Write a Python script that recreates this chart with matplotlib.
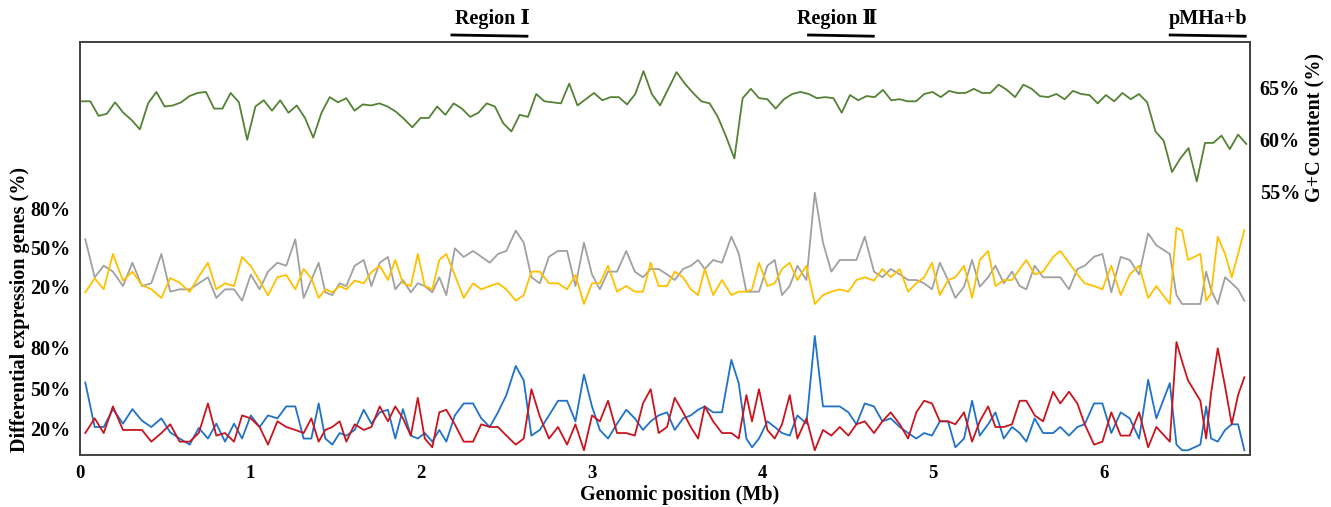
import matplotlib
matplotlib.use("Agg")
import matplotlib.pyplot as plt
import matplotlib.transforms as mtransforms
import numpy as np

plt.rcParams['font.family'] = ['Liberation Serif', 'DejaVu Serif']
plt.rcParams['font.weight'] = 'bold'

# G+C content (%) in regular windows along the genome
gc_start = 0.012   # Mb, first window
gc_step = 0.0484   # Mb, window step
gc_content = [
    63.7, 63.7, 62.3, 62.5, 63.6, 62.6, 61.9, 61.0, 63.5, 64.6, 63.2, 63.3, 63.6, 64.2, 64.5, 64.6,
    63.0, 63.0, 64.5, 63.6, 60.0, 63.2, 63.8, 62.8, 63.8, 62.6, 63.3, 62.1, 60.2, 62.6, 64.1, 63.6,
    64.0, 62.8, 63.4, 63.3, 63.5, 63.2, 62.7, 62.0, 61.2, 62.1, 62.1, 63.2, 62.4, 63.5, 63.0, 62.2,
    62.6, 63.5, 63.2, 61.6, 60.8, 62.4, 62.2, 64.4, 63.7, 63.6, 63.5, 65.4, 63.3, 63.9, 64.5, 63.8,
    64.1, 64.1, 63.4, 64.4, 66.6, 64.4, 63.3, 64.9, 66.5, 65.4, 64.5, 63.7, 63.5, 62.2, 60.3, 58.2,
    64.0, 64.9, 64.0, 63.9, 63.0, 63.9, 64.4, 64.6, 64.4, 64.0, 64.1, 64.0, 62.6, 64.3, 63.8, 64.2,
    64.1, 64.8, 63.8, 63.9, 63.7, 63.7, 64.4, 64.6, 64.1, 64.7, 64.5, 64.5, 64.9, 64.5, 64.5, 65.3,
    64.8, 64.1, 65.3, 64.9, 64.2, 64.1, 64.4, 63.9, 64.7, 64.4, 64.3, 63.5, 64.3, 63.7, 64.5, 63.9,
    64.4, 63.6, 60.8, 59.9, 56.9, 58.2, 59.2, 56.0, 59.7, 59.7, 60.4, 59.1, 60.5, 59.6,
]

# positions (Mb) of the differential expression windows
deg_pos = [
    0.031, 0.086, 0.139, 0.193, 0.252, 0.307, 0.363, 0.418, 0.477, 0.529, 0.584, 0.643, 0.696,
    0.750, 0.799, 0.850, 0.903, 0.950, 1.001, 1.053, 1.102, 1.157, 1.209, 1.262, 1.311, 1.356,
    1.399, 1.438, 1.479, 1.522, 1.561, 1.610, 1.663, 1.708, 1.757, 1.805, 1.848, 1.893, 1.939,
    1.980, 2.021, 2.065, 2.106, 2.147, 2.197, 2.249, 2.304,
    2.352, 2.402, 2.450, 2.499, 2.554, 2.601, 2.646, 2.695, 2.749, 2.802, 2.855, 2.904, 2.954,
    3.001, 3.047, 3.095, 3.148, 3.202, 3.252, 3.300, 3.345, 3.392, 3.441, 3.486, 3.535, 3.580,
    3.623, 3.662, 3.711, 3.763, 3.818, 3.861, 3.906, 3.939, 3.980, 4.029, 4.072, 4.115, 4.160,
    4.205, 4.258, 4.307, 4.355, 4.404, 4.453, 4.504, 4.551, 4.600,
    4.654, 4.703, 4.752, 4.805, 4.854, 4.902, 4.948, 4.994, 5.040, 5.088, 5.131, 5.182, 5.229,
    5.274, 5.323, 5.366, 5.415, 5.463, 5.508, 5.547, 5.596, 5.645, 5.704, 5.746, 5.797, 5.846,
    5.889, 5.944, 5.993, 6.045, 6.100, 6.153, 6.208, 6.261, 6.309, 6.388, 6.427, 6.460, 6.495,
    6.567, 6.601, 6.630, 6.669, 6.712, 6.751, 6.788, 6.825,
]

# middle band
deg_yellow = [
    15.7, 26.4, 18.0, 45.0, 24.6, 31.5, 21.3, 18.0, 11.4, 26.6, 23.1, 16.0, 27.7, 38.3, 18.0, 22.6,
    20.5, 42.7, 35.7, 24.6, 13.4, 27.2, 28.9, 18.0, 33.5, 26.4, 11.4, 18.0, 15.7, 20.5, 18.0, 24.6,
    22.6, 31.0, 36.0, 25.1, 40.4, 22.6, 20.5, 45.0, 20.5, 18.0, 40.4, 45.0, 28.9, 11.4, 22.6,
    18.0, 20.5, 22.6, 18.0, 9.3, 13.6, 31.5, 31.5, 22.6, 22.6, 18.0, 28.9, 6.8, 22.6, 22.6, 36.0,
    16.2, 20.5, 16.2, 16.2, 38.3, 20.5, 20.5, 31.5, 27.2, 18.0, 13.6, 33.5, 13.6, 25.1, 13.6, 16.2,
    16.2, 18.0, 38.3, 20.5, 22.6, 33.5, 38.3, 25.1, 36.0, 6.8, 13.6, 16.2, 18.0, 16.2, 25.1, 27.2,
    24.6, 33.5, 27.2, 33.5, 16.2, 22.6, 27.2, 38.3, 13.6, 25.1, 27.2, 36.0, 11.4, 40.4, 47.3, 20.5,
    25.1, 25.1, 33.5, 40.4, 29.4, 31.5, 42.7, 47.3, 38.3, 29.4, 22.6, 20.5, 18.0, 36.0, 13.6, 29.4,
    36.0, 11.4, 20.5, 6.8, 65.0, 62.8, 40.4, 45.0, 9.3, 14.9, 58.2, 45.0, 27.2, 44.9, 63.3,
]
deg_gray = [
    56.2, 27.2, 36.0, 31.5, 20.5, 38.3, 20.5, 22.6, 45.0, 16.2, 18.0, 18.0, 22.6, 27.2, 11.4, 18.0,
    18.0, 9.3, 29.2, 18.0, 31.5, 38.3, 36.0, 56.2, 11.4, 25.1, 38.3, 15.7, 13.6, 22.6, 20.5, 36.0,
    40.4, 20.5, 38.3, 42.7, 18.0, 25.1, 15.7, 22.6, 20.5, 15.7, 27.2, 13.6, 49.3, 42.7, 47.3,
    42.9, 38.3, 45.0, 47.3, 62.8, 53.6, 27.2, 22.6, 42.9, 47.3, 47.3, 20.5, 53.6, 29.4, 18.0, 31.5,
    31.5, 47.3, 31.5, 27.2, 33.5, 33.5, 29.4, 25.1, 33.5, 36.0, 40.4, 33.5, 40.4, 38.3, 58.2, 45.5,
    16.2, 16.2, 16.2, 36.0, 40.4, 13.6, 20.5, 36.0, 25.1, 91.8, 53.6, 31.5, 40.4, 40.4, 40.4, 58.2,
    31.5, 27.2, 33.5, 29.4, 25.1, 25.1, 22.6, 18.0, 38.3, 25.1, 11.4, 20.0, 40.4, 20.0, 27.2, 36.0,
    22.6, 31.5, 20.5, 18.0, 36.0, 27.2, 27.2, 27.2, 18.0, 33.5, 36.0, 42.9, 45.0, 15.7, 42.7, 40.4,
    29.4, 60.7, 51.6, 45.0, 13.6, 6.8, 6.8, 6.8, 31.5, 17.5, 6.8, 27.2, 22.6, 18.0, 9.3,
]

# bottom band
deg_blue = [
    54.3, 21.2, 21.2, 34.5, 23.7, 34.5, 25.9, 21.2, 27.6, 17.2, 12.6, 8.1, 20.5, 12.6, 23.7, 10.3,
    23.7, 12.6, 29.8, 21.2, 29.8, 27.6, 36.5, 36.5, 12.6, 12.6, 38.7, 12.6, 8.1, 16.7, 14.8, 19.0,
    34.0, 23.7, 32.1, 34.0, 12.6, 34.5, 14.8, 12.6, 16.7, 10.3, 19.0, 10.3, 29.8, 38.7, 38.7,
    27.6, 21.2, 32.1, 44.9, 66.6, 55.8, 14.8, 19.0, 29.8, 40.7, 40.7, 25.4, 60.2, 36.5, 19.0, 12.6,
    23.7, 34.0, 27.6, 19.0, 25.4, 29.8, 32.1, 19.0, 27.6, 29.8, 34.0, 36.5, 32.1, 32.1, 71.1, 53.8,
    12.6, 6.1, 12.6, 25.4, 21.2, 16.7, 14.8, 29.8, 23.7, 88.9, 36.5, 36.5, 36.5, 32.1, 23.2, 38.7,
    36.5, 25.4, 27.6, 21.2, 16.7, 12.6, 16.7, 14.8, 25.4, 25.4, 6.1, 12.6, 40.7, 14.8, 23.2, 32.1,
    12.6, 21.2, 16.7, 10.3, 27.6, 16.7, 16.7, 21.2, 14.8, 21.2, 23.2, 38.7, 38.7, 16.7, 32.1, 27.6,
    12.6, 56.3, 27.6, 53.8, 8.1, 3.9, 3.9, 8.1, 36.5, 12.6, 10.3, 19.0, 23.2, 23.2, 3.9,
]
deg_red = [
    16.7, 27.6, 16.7, 36.5, 19.0, 19.0, 19.0, 10.3, 16.7, 23.2, 10.3, 10.3, 16.7, 38.7, 14.8, 16.7,
    10.3, 29.8, 27.6, 21.2, 8.1, 25.4, 21.2, 19.0, 16.7, 27.6, 10.3, 19.0, 21.2, 25.4, 10.3, 23.2,
    19.0, 21.2, 36.5, 25.4, 36.5, 27.6, 14.8, 42.9, 12.6, 6.1, 32.1, 34.0, 23.2, 10.3, 10.3,
    23.2, 21.2, 21.2, 14.8, 8.1, 12.6, 49.3, 29.1, 12.6, 21.2, 8.1, 23.2, 3.9, 29.8, 25.4, 40.7,
    16.7, 16.7, 14.8, 38.7, 49.3, 16.7, 21.2, 42.9, 32.1, 21.2, 12.6, 36.5, 25.4, 16.7, 16.7, 12.6,
    44.9, 25.4, 49.3, 19.0, 12.6, 23.2, 44.9, 12.6, 27.6, 3.9, 19.0, 14.8, 21.2, 14.8, 23.2, 25.4,
    16.7, 25.4, 32.1, 23.2, 12.6, 32.1, 40.7, 38.7, 25.4, 25.4, 23.2, 32.1, 10.3, 25.4, 36.5, 21.2,
    21.2, 23.2, 40.7, 40.7, 29.8, 25.4, 47.4, 38.7, 47.4, 38.7, 23.2, 8.1, 10.3, 32.1, 14.8, 14.8,
    32.1, 6.1, 21.2, 10.3, 84.4, 69.8, 55.8, 40.7, 12.6, 46.4, 79.7, 51.3, 23.2, 44.9, 58.2,
]

regions = [("Region Ⅰ", 2.18, 2.62, 2.42), ("Region Ⅱ", 4.27, 4.65, 4.44), ("pMHa+b", 6.39, 6.83, 6.61)]

gc_pos = gc_start + gc_step * np.arange(len(gc_content))

W, H = 1331, 507
fig = plt.figure(figsize=(W / 100, H / 100), dpi=100)


def box(l, t, r, b):
    return [l / W, 1 - b / H, (r - l) / W, (b - t) / H]


frame_col = '#404040'
ax = fig.add_axes(box(80, 42, 1250, 455))
ax.set_xlim(0, 6.858)
ax.set_ylim(0, 1)
ax.set_yticks([])
ax.set_xticks(range(7))
ax.tick_params(axis='x', length=0, pad=7, labelsize=13.5)
for s in ax.spines.values():
    s.set_color(frame_col)
    s.set_linewidth(1.4)

# G+C content on the right axis
ax_gc = ax.twinx()
ax_gc.set_ylim(29.7, 69.4)
ax_gc.plot(gc_pos, gc_content, color='#548235', lw=1.3)
ax_gc.set_yticks([55, 60, 65])
ax_gc.set_yticklabels(['55%', '60%', '65%'])
ax_gc.tick_params(axis='y', length=0, pad=7, labelsize=14.5)
for s in ax_gc.spines.values():
    s.set_visible(False)

# two DEG bands, each with its own 0-100% scale
mid = fig.add_axes(box(80, 181.9, 1250, 312.9), sharex=ax)
low = fig.add_axes(box(80, 321, 1250, 455.5), sharex=ax)
mid.plot(deg_pos, deg_gray, color='#A0A0A0', lw=1.3)
mid.plot(deg_pos, deg_yellow, color='#FFC000', lw=1.3)
low.plot(deg_pos, deg_blue, color='#1F72C8', lw=1.3)
low.plot(deg_pos, deg_red, color='#C8141E', lw=1.3)
for band in (mid, low):
    band.set_ylim(0, 100)
    band.patch.set_visible(False)
    for s in band.spines.values():
        s.set_visible(False)
    band.set_yticks([20, 50, 80])
    band.set_yticklabels(['20%', '50%', '80%'])
    band.tick_params(axis='y', length=0, pad=7, labelsize=14.5)
    band.tick_params(axis='x', bottom=False, labelbottom=False)

# region marks above the plot
trans = mtransforms.blended_transform_factory(ax.transData, ax.transAxes)
for name, x0, x1, xc in regions:
    ax.plot([x0, x1], [1.017, 1.014], color='black', lw=2.0, transform=trans, clip_on=False)
    ax.text(xc, 1.055, name, transform=trans, ha='center', va='center', fontsize=14.5)

fig.text(680 / W, 1 - 495 / H, 'Genomic position (Mb)', ha='center', va='center', fontsize=14.5)
fig.text(20 / W, 1 - 309 / H, 'Differential expression genes (%)', ha='center', va='center',
         rotation=90, fontsize=14.5)
fig.text(1315 / W, 1 - 127 / H, 'G+C content (%)', ha='center', va='center', rotation=90, fontsize=14.5)

fig.savefig('out.png', dpi=100)
